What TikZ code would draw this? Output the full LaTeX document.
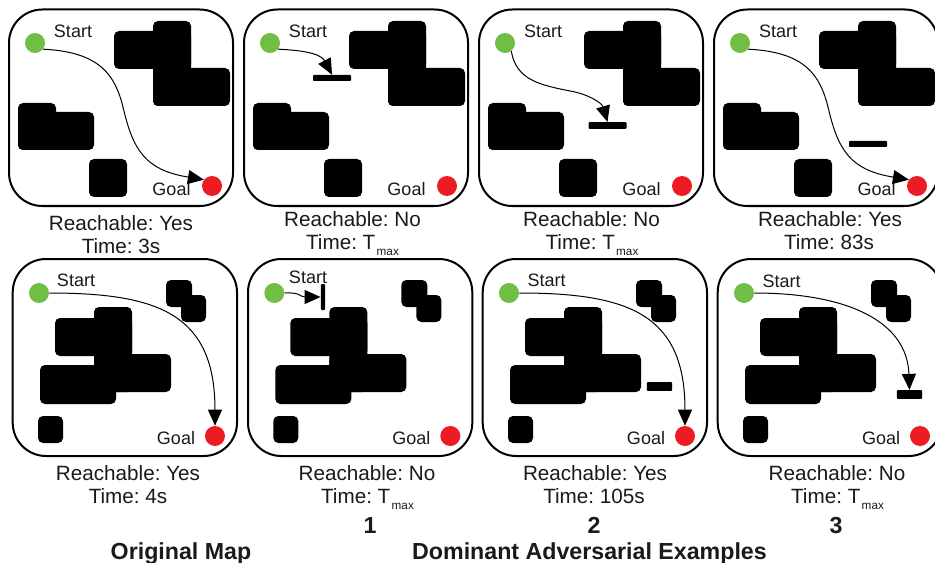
\documentclass[tikz,border=0pt]{standalone}
\usepackage{fontspec}
\setmainfont{Liberation Sans}
\usetikzlibrary{arrows.meta}
\definecolor{sgreen}{HTML}{70BF44}
\definecolor{gred}{HTML}{ED1C24}
\definecolor{ink}{HTML}{1A1A1A}
\newcommand{\MaxSub}{\kern1pt\raisebox{-5.2pt}{\fontsize{8.8pt}{10pt}\selectfont max}}
\tikzset{
  mapframe/.style={draw=black,line width=1.5pt,rounded corners=25pt,fill=white},
  block/.style={fill=black,rounded corners=3.75pt},
  wallbar/.style={fill=black,rounded corners=.7pt,draw=none,inner sep=0pt,rectangle},
  startdot/.style={circle,fill=sgreen,minimum size=15pt,inner sep=0pt},
  goaldot/.style={circle,fill=gred,minimum size=15pt,inner sep=0pt},
  maplab/.style={font=\frenchspacing\fontsize{13.5pt}{16pt}\selectfont,text=ink,inner sep=0pt,anchor=base},
  captxt/.style={font=\frenchspacing\fontsize{15.5pt}{18pt}\selectfont,text=ink,inner sep=0pt,anchor=base},
  headtxt/.style={font=\bfseries\frenchspacing\fontsize{17.4pt}{20pt}\selectfont,text=ink,inner sep=0pt,anchor=base},
  route/.style={draw=black,line width=.75pt,-{Triangle[length=12pt,width=10.5pt]}},
}
\newcommand{\TopMap}[1]{%
  \draw[mapframe] (9,9.5) rectangle (233,206);
  \fill[block] (114,31) rectangle (191,69);
  \fill[block] (153,21) rectangle (191,106);
  \fill[block] (153,68) rectangle (230,106);
  \fill[block] (18,103) rectangle (56,150);
  \fill[block] (18,112) rectangle (94,150);
  \fill[block] (89,159) rectangle (127,197);
  \node[maplab] (st#1) at (73,37.7) {Start};
  \node[maplab] (gl#1) at (171.5,195.5) {Goal};
  \node[startdot] (s#1) at (35,43) {};
  \node[goaldot] (g#1) at (212,186) {};
}
\newcommand{\BotMap}[1]{%
  \draw[mapframe] (12.7,259) rectangle (237,456);
  \fill[block] (55,318) rectangle (132,356);
  \fill[block] (94,307) rectangle (132,392);
  \fill[block] (94,354) rectangle (171,392);
  \fill[block] (40,365) rectangle (116,404);
  \fill[block] (38,416) rectangle (63,443);
  \fill[block] (166,280) rectangle (192,307);
  \fill[block] (181,295) rectangle (206,322);
  \node[goaldot] (g#1) at (215,436) {};
  \node[startdot] (s#1) at (39,293) {};
  \node[maplab] (gl#1) at (176,444) {Goal};
}
\begin{document}
\begin{tikzpicture}[x=.75pt,y=-.75pt]
\clip (0,0) rectangle (935,563);
\fill[white] (0,0) rectangle (935,563);
% top row
\begin{scope}
  \TopMap{a}
  \draw[route] (sa.-37) .. controls (100,52) and (115,75) .. (123,107)
     .. controls (133,150) and (145,170) .. (ga.142);
\end{scope}
\begin{scope}[shift={(235,0)}]
  \TopMap{b}
  \node[wallbar,minimum width=28.5pt,minimum height=4.5pt] (bb) at (97,78) {};
  \draw[route] (sb.-37) .. controls (60,50) and (85,52) .. (bb.north);
\end{scope}
\begin{scope}[shift={(470,0)}]
  \TopMap{c}
  \node[wallbar,minimum width=28.5pt,minimum height=5pt] (bc) at (137.5,125.5) {};
  \draw[route] (sc.-52) .. controls (46,80) and (70,85) .. (100,91)
     .. controls (118,94) and (132,103) .. (bc.north);
\end{scope}
\begin{scope}[shift={(705,0)}]
  \TopMap{d}
  \node[wallbar,minimum width=28.5pt,minimum height=4.5pt] (bd) at (163,144) {};
  \draw[route] (sd.-37) .. controls (100,52) and (115,75) .. (123,107)
     .. controls (133,150) and (145,170) .. (gd.142);
\end{scope}
% bottom row
\begin{scope}
  \BotMap{e}
  \node[maplab] (ste) at (76,286.5) {Start};
  \draw[route] (se.east) .. controls (160,293) and (215,315) .. (ge.north);
\end{scope}
\begin{scope}[shift={(235.3,0)}]
  \BotMap{f}
  \node[maplab] (stf) at (72.7,283.5) {Start};
  \node[wallbar,minimum width=3.2pt,minimum height=19.5pt] (bf) at (87.7,297) {};
  \draw[route] (sf.east) .. controls (65,292) and (65,297) .. (bf.west);
\end{scope}
\begin{scope}[shift={(470,0)}]
  \BotMap{h}
  \node[maplab] (sth) at (76.5,286.5) {Start};
  \node[wallbar,minimum width=19pt,minimum height=6.5pt] (bh) at (189.5,386.5) {};
  \draw[route] (sh.east) .. controls (160,293) and (215,315) .. (gh.north);
\end{scope}
\begin{scope}[shift={(705,0)}]
  \BotMap{i}
  \node[maplab] (sti) at (76.5,287.5) {Start};
  \node[wallbar,minimum width=19pt,minimum height=6.5pt] (bi) at (204.5,394.5) {};
  \draw[route] (si.east) .. controls (140,293) and (202,320) .. (bi.north);
\end{scope}
% captions, top
\node[captxt] (c1) at (121,230) {Reachable: Yes};
\node[captxt] (t1) at (121,253) {Time: 3s};
\node[captxt] (c2) at (352.5,226.5) {Reachable: No};
\node[captxt] (t2) at (352.5,249) {Time: T\MaxSub};
\node[captxt] (c3) at (591.5,226.5) {Reachable: No};
\node[captxt] (t3) at (592,249) {Time: T\MaxSub};
\node[captxt] (c4) at (830,226.5) {Reachable: Yes};
\node[captxt] (t4) at (829,249) {Time: 83s};
% captions, bottom
\node[captxt] (c5) at (128,480) {Reachable: Yes};
\node[captxt] (t5) at (128,503) {Time: 4s};
\node[captxt] (c6) at (367,480) {Reachable: No};
\node[captxt] (t6) at (367.5,503) {Time: T\MaxSub};
\node[captxt] (c7) at (595,480) {Reachable: Yes};
\node[captxt] (t7) at (594,503) {Time: 105s};
\node[captxt] (c8) at (837,480) {Reachable: No};
\node[captxt] (t8) at (837.5,503) {Time: T\MaxSub};
\node[headtxt] (n1) at (370,533) {1};
\node[headtxt] (n2) at (594,533) {2};
\node[headtxt] (n3) at (836,533) {3};
\node[headtxt] (h1) at (181,559) {Original Map};
\node[headtxt] (h2) at (589.5,559) {Dominant Adversarial Examples};
\end{tikzpicture}
\end{document}
